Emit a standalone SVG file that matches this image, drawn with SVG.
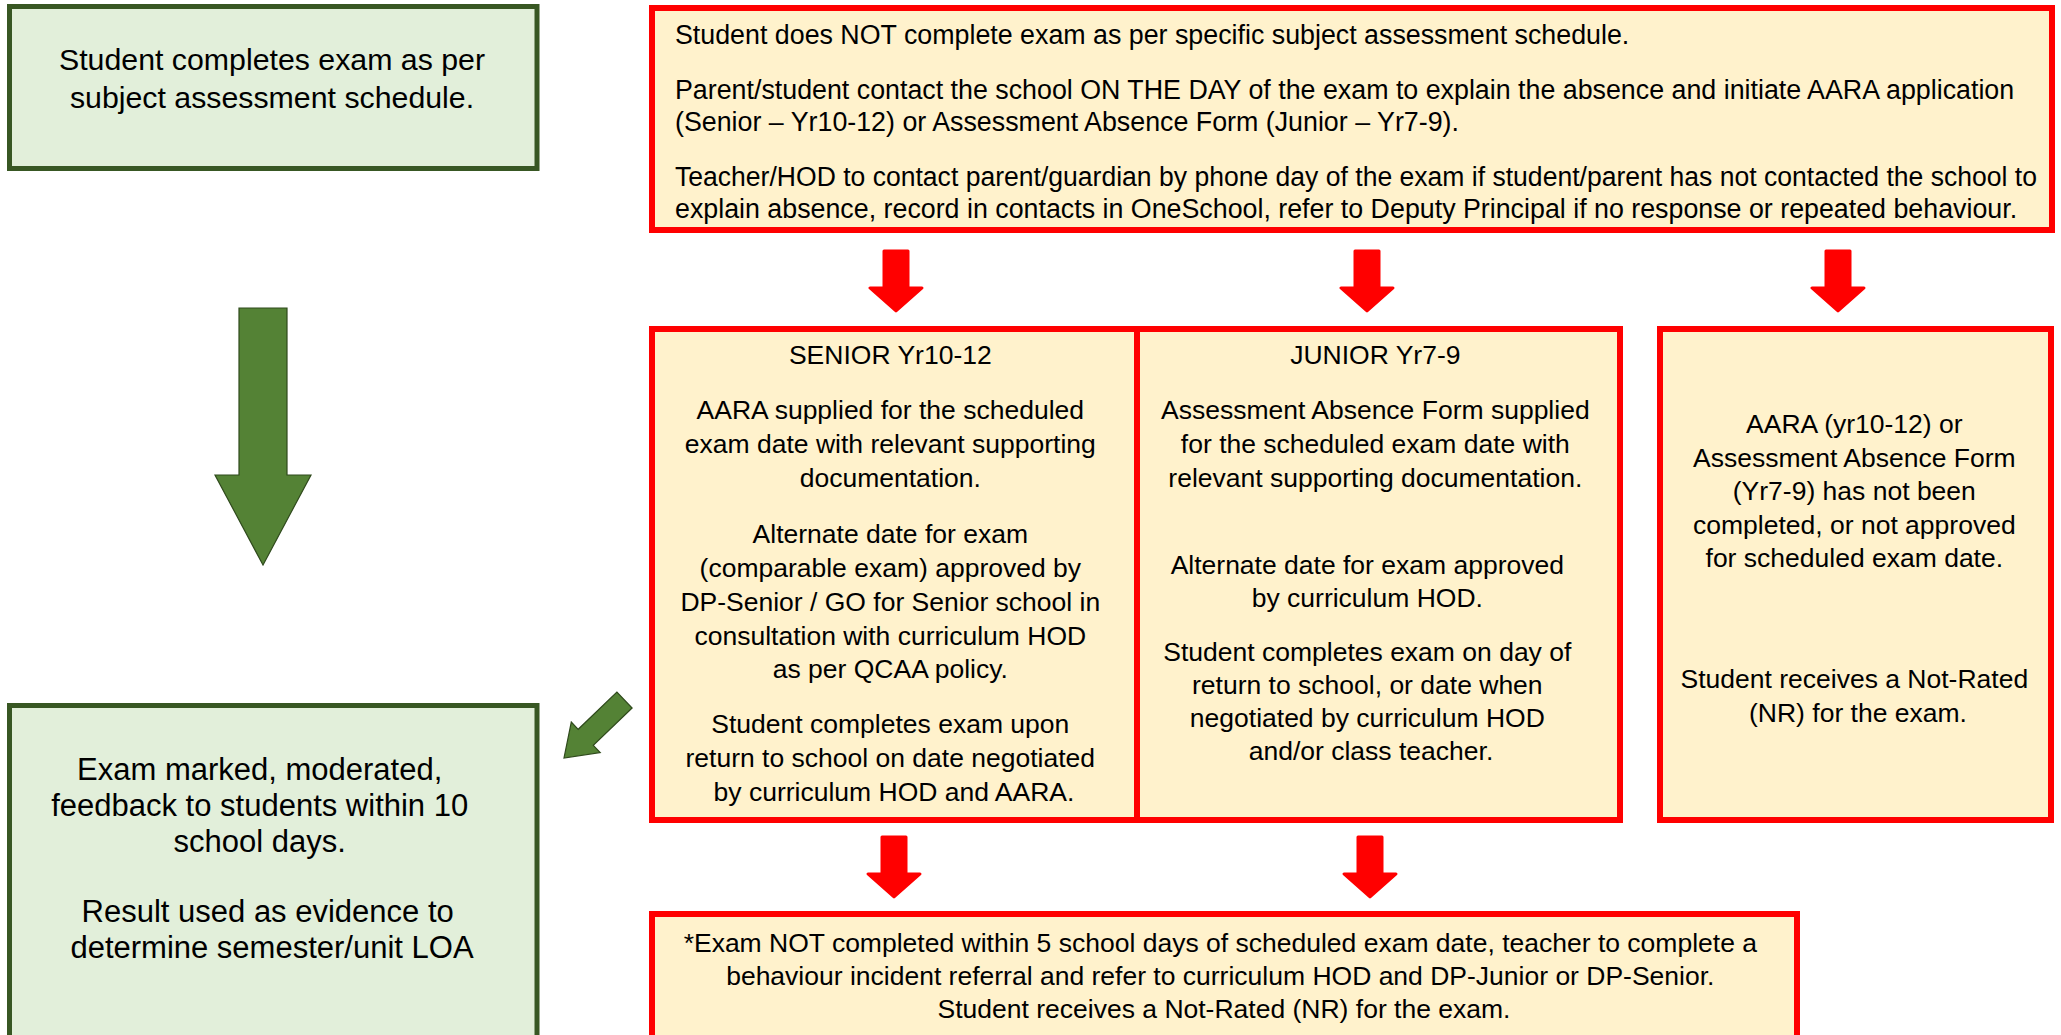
<svg xmlns="http://www.w3.org/2000/svg" xmlns:xlink="http://www.w3.org/1999/xlink" width="2061" height="1035" viewBox="0 0 2061 1035">
<style>
.gbox{fill:#e2efda;stroke:#385723;stroke-width:5}
.rbox{fill:#fff2cc;stroke:#ff0000;stroke-width:6}
.t{font-family:"Liberation Sans",Arial,sans-serif;fill:#000}
.g{font-size:31px;text-anchor:middle}
.g1{font-size:30.3px}
.r{font-size:26.5px}
.rt{font-size:26.8px}
.c{text-anchor:middle}
.garrow{fill:#548235;stroke:#2f4a1c;stroke-width:1.2;stroke-linejoin:miter}
.rarrow{fill:#ff0000;stroke:#ff0000;stroke-width:3;stroke-linejoin:round}
</style>
<defs>
<path id="redArrow" d="M-12,0 H12 V37 H26 L0,60 L-26,37 H-12 Z"/>
</defs>
<rect width="2061" height="1035" fill="#ffffff"/>

<g id="connectors">
<polygon id="green-down" class="garrow" points="239,308 287,308 287,475 311,475 263,565 215,475 239,475"/>
<polygon id="green-diag" class="garrow" points="632.1,708 593.3,745.3 600.2,752.5 564,758 571.3,722.1 578.2,729.3 616.9,692"/>
<g class="rarrow">
<use xlink:href="#redArrow" x="896" y="251"/>
<use xlink:href="#redArrow" x="1367" y="251"/>
<use xlink:href="#redArrow" x="1838" y="251"/>
<use xlink:href="#redArrow" x="894" y="837"/>
<use xlink:href="#redArrow" x="1370" y="837"/>
</g>
</g>

<g id="node-complete">
<rect class="gbox" x="9.5" y="6.5" width="527.5" height="162"/>
<text class="t g g1"><tspan x="272" y="70">Student completes exam as per</tspan><tspan x="272" y="108">subject assessment schedule.</tspan></text>
</g>

<g id="node-not-complete">
<rect class="rbox" x="652" y="8" width="1400" height="222"/>
<text class="t rt" x="675" y="44">Student does NOT complete exam as per specific subject assessment schedule.</text>
<text class="t rt" x="675" y="99">Parent/student contact the school ON THE DAY of the exam to explain the absence and initiate AARA application</text>
<text class="t rt" x="675" y="131">(Senior – Yr10-12) or Assessment Absence Form (Junior – Yr7-9).</text>
<text class="t rt" x="675" y="186" textLength="1362" lengthAdjust="spacingAndGlyphs">Teacher/HOD to contact parent/guardian by phone day of the exam if student/parent has not contacted the school to</text>
<text class="t rt" x="675" y="218">explain absence, record in contacts in OneSchool, refer to Deputy Principal if no response or repeated behaviour.</text>
</g>

<g id="node-senior">
<rect class="rbox" x="652" y="329" width="485" height="491"/>
<text class="t r c">
<tspan x="894" y="364">SENIOR Yr10-12</tspan>
<tspan x="894" y="419">AARA supplied for the scheduled</tspan>
<tspan x="894" y="453">exam date with relevant supporting</tspan>
<tspan x="894" y="487">documentation.</tspan>
<tspan x="894" y="543">Alternate date for exam</tspan>
<tspan x="894" y="577">(comparable exam) approved by</tspan>
<tspan x="894" y="611">DP-Senior / GO for Senior school in</tspan>
<tspan x="894" y="645">consultation with curriculum HOD</tspan>
<tspan x="894" y="678">as per QCAA policy.</tspan>
<tspan x="894" y="733">Student completes exam upon</tspan>
<tspan x="894" y="767">return to school on date negotiated</tspan>
<tspan x="894" y="801">by curriculum HOD and AARA.</tspan>
</text>
</g>

<g id="node-junior">
<rect class="rbox" x="1137" y="329" width="483" height="491"/>
<text class="t r c">
<tspan x="1379" y="364">JUNIOR Yr7-9</tspan>
<tspan x="1379" y="419">Assessment Absence Form supplied</tspan>
<tspan x="1379" y="453">for the scheduled exam date with</tspan>
<tspan x="1379" y="487">relevant supporting documentation.</tspan>
<tspan x="1371" y="574">Alternate date for exam approved</tspan>
<tspan x="1371" y="607">by curriculum HOD.</tspan>
<tspan x="1371" y="661">Student completes exam on day of</tspan>
<tspan x="1371" y="694">return to school, or date when</tspan>
<tspan x="1371" y="727">negotiated by curriculum HOD</tspan>
<tspan x="1371" y="760">and/or class teacher.</tspan>
</text>
</g>

<g id="node-not-approved">
<rect class="rbox" x="1660" y="329" width="391" height="491"/>
<text class="t r c">
<tspan x="1858" y="433">AARA (yr10-12) or</tspan>
<tspan x="1858" y="467">Assessment Absence Form</tspan>
<tspan x="1858" y="500">(Yr7-9) has not been</tspan>
<tspan x="1858" y="534">completed, or not approved</tspan>
<tspan x="1858" y="567">for scheduled exam date.</tspan>
<tspan x="1858" y="688">Student receives a Not-Rated</tspan>
<tspan x="1858" y="722">(NR) for the exam.</tspan>
</text>
</g>

<g id="node-marked">
<rect class="gbox" x="9.5" y="705.5" width="527.5" height="400"/>
<text class="t g">
<tspan x="264" y="780">Exam marked, moderated,</tspan>
<tspan x="264" y="816">feedback to students within 10</tspan>
<tspan x="264" y="852">school days.</tspan>
<tspan x="272" y="922">Result used as evidence to</tspan>
<tspan x="272" y="958">determine semester/unit LOA</tspan>
</text>
</g>

<g id="node-not-completed-5days">
<rect class="rbox" x="652" y="914" width="1145" height="160"/>
<text class="t r c">
<tspan x="1224" y="952">*Exam NOT completed within 5 school days of scheduled exam date, teacher to complete a</tspan>
<tspan x="1224" y="985">behaviour incident referral and refer to curriculum HOD and DP-Junior or DP-Senior.</tspan>
<tspan x="1224" y="1018">Student receives a Not-Rated (NR) for the exam.</tspan>
</text>
</g>
</svg>
